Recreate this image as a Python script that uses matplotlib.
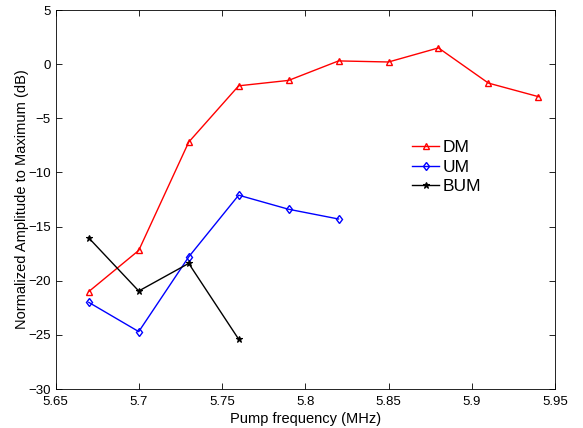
import matplotlib
matplotlib.use("Agg")
import matplotlib.pyplot as plt

plt.rcParams['font.family'] = ['Liberation Sans', 'DejaVu Sans']

freq_dm = [5.67, 5.70, 5.73, 5.76, 5.79, 5.82, 5.85, 5.88, 5.91, 5.94]
dm = [-21.0, -17.2, -7.2, -2.0, -1.5, 0.3, 0.2, 1.5, -1.75, -3.0]
freq_um = [5.67, 5.70, 5.73, 5.76, 5.79, 5.82]
um = [-22.0, -24.7, -17.8, -12.1, -13.4, -14.3]
freq_bum = [5.67, 5.70, 5.73, 5.76]
bum = [-16.05, -20.95, -18.4, -25.4]

xticks = [5.65, 5.7, 5.75, 5.8, 5.85, 5.9, 5.95]
xticklabels = ['5.65', '5.7', '5.75', '5.8', '5.85', '5.9', '5.95']
yticks = [-30, -25, -20, -15, -10, -5, 0, 5]

fig = plt.figure(figsize=(5.83, 4.28), dpi=100)
ax = fig.add_axes([0.0952, 0.0911, 0.8568, 0.8855])

ax.plot(freq_dm, dm, color='red', marker='^', markersize=4.5, markerfacecolor='none',
        markeredgewidth=1.0, linewidth=1.0, label='DM')
ax.plot(freq_um, um, color='blue', marker='d', markersize=4.5, markerfacecolor='none',
        markeredgewidth=1.0, linewidth=1.0, label='UM')
ax.plot(freq_bum, bum, color='black', marker='*', markersize=5,
        markeredgewidth=0.8, linewidth=1.0, label='BUM')

ax.set_xlim(5.65, 5.95)
ax.set_ylim(-30, 5)
ax.set_xticks(xticks)
ax.set_xticklabels(xticklabels)
ax.set_yticks(yticks)
ax.tick_params(direction='in', top=True, right=True, labelsize=9.5, length=4, width=0.6)
ax.tick_params(axis='x', pad=5)
for s in ax.spines.values():
    s.set_linewidth(0.6)
ax.set_xlabel('Pump frequency (MHz)', fontsize=10.5, labelpad=3)
ax.set_ylabel('Normalized Amplitude to Maximum (dB)', fontsize=10.5, labelpad=-1)

ax.legend(loc='upper left', bbox_to_anchor=(0.70, 0.675), frameon=False, fontsize=12.5,
          handlelength=1.55, handletextpad=0.2, labelspacing=0.25, borderaxespad=0)

fig.savefig('out.png', dpi=100)
